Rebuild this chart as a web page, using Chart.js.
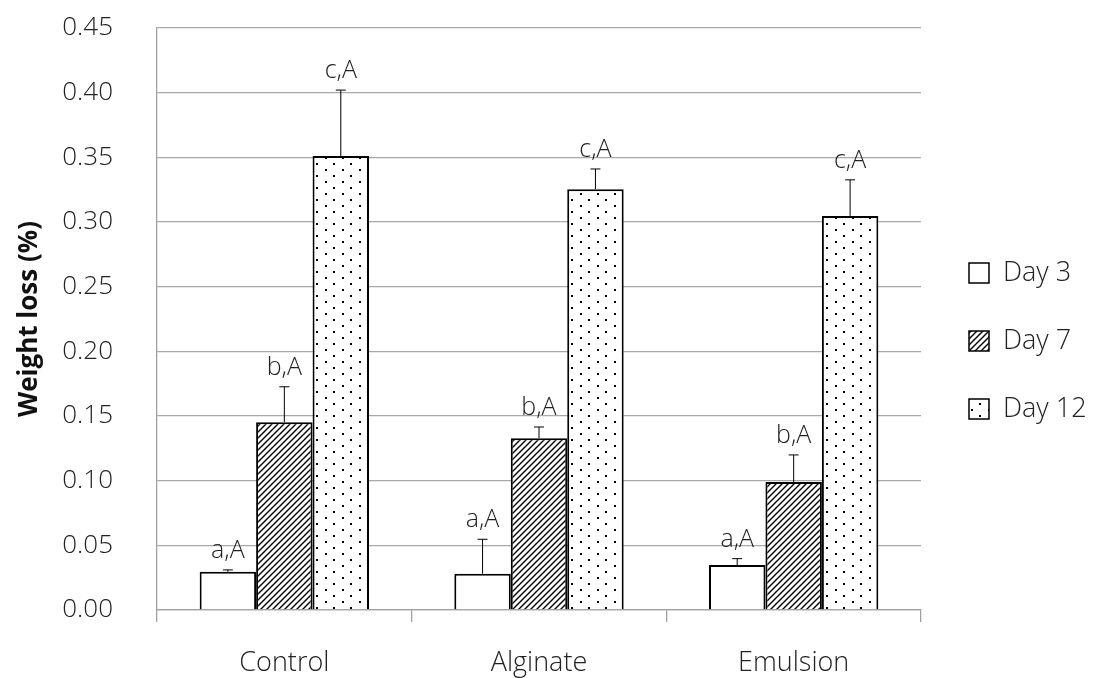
<!DOCTYPE html>
<html>
<head>
<meta charset="utf-8">
<script src="https://cdn.jsdelivr.net/npm/chart.js@4.4.1/dist/chart.umd.min.js"></script>
<style>
    html, body { margin: 0; padding: 0; background: #fff; }
    #wrap { width: 1104px; height: 678px; }
</style>
</head>
<body>
<div id="wrap"><canvas id="myChart" width="1104" height="678"></canvas></div>
<script>
// data
var categories = ['Control', 'Alginate', 'Emulsion'];
var seriesNames = ['Day 3', 'Day 7', 'Day 12'];
var day3 = [0.0295, 0.028, 0.0348];
var day7 = [0.1452, 0.1328, 0.099];
var day12 = [0.351, 0.3254, 0.3047];
var err3 = [0.0015, 0.0267, 0.0049];
var err7 = [0.0274, 0.0087, 0.0209];
var err12 = [0.051, 0.0156, 0.0279];
var letters3 = ['a,A', 'a,A', 'a,A'];
var letters7 = ['b,A', 'b,A', 'b,A'];
var letters12 = ['c,A', 'c,A', 'c,A'];
var yTicks = [0, 0.05, 0.10, 0.15, 0.20, 0.25, 0.30, 0.35, 0.40, 0.45];

document.addEventListener('DOMContentLoaded', function() {
    "use strict";

    var FONT = "'Open Sans', 'Noto Sans', sans-serif";
    var ctx = document.getElementById('myChart').getContext('2d');

    /* fill patterns */
    function hatchPattern() {
        var c = document.createElement('canvas');
        c.width = 6; c.height = 6;
        var g = c.getContext('2d');
        g.fillStyle = '#fff';
        g.fillRect(0, 0, 6, 6);
        g.strokeStyle = '#000';
        g.lineWidth = 1.4;
        g.beginPath();
        g.moveTo(0, 6); g.lineTo(6, 0);
        g.moveTo(-3, 3); g.lineTo(3, -3);
        g.moveTo(3, 9); g.lineTo(9, 3);
        g.stroke();
        return ctx.createPattern(c, 'repeat');
    }
    function dotPattern() {
        var c = document.createElement('canvas');
        c.width = 17; c.height = 12;
        var g = c.getContext('2d');
        g.fillStyle = '#fff';
        g.fillRect(0, 0, 17, 12);
        g.fillStyle = '#000';
        g.fillRect(2, 1, 2, 2);
        g.fillRect(10, 7, 2, 2);
        return ctx.createPattern(c, 'repeat');
    }
    var fills = ['#ffffff', hatchPattern(), dotPattern()];
    var errs = [err3, err7, err12];
    var letters = [letters3, letters7, letters12];

    /* error bars + letters above them */
    var errorBars = {
        id: 'errorBars',
        afterDatasetsDraw: function(chart) {
            var c = chart.ctx;
            var y = chart.scales.y;
            c.save();
            chart.data.datasets.forEach(function(ds, i) {
                var meta = chart.getDatasetMeta(i);
                meta.data.forEach(function(bar, j) {
                    var top = y.getPixelForValue(ds.data[j] + errs[i][j]);
                    c.strokeStyle = '#000';
                    c.lineWidth = 1;
                    c.beginPath();
                    c.moveTo(bar.x, bar.y);
                    c.lineTo(bar.x, top);
                    c.moveTo(bar.x - 5, top);
                    c.lineTo(bar.x + 5, top);
                    c.stroke();
                    c.fillStyle = '#222';
                    c.font = '300 25px ' + FONT;
                    c.textAlign = 'center';
                    c.textBaseline = 'middle';
                    c.fillText(letters[i][j], bar.x, top - 19);
                });
            });
            c.restore();
        }
    };

    /* legend on the right */
    var sideLegend = {
        id: 'sideLegend',
        afterDraw: function(chart) {
            var c = chart.ctx;
            var rows = [273, 341, 409];
            c.save();
            seriesNames.forEach(function(name, i) {
                c.fillStyle = fills[i];
                c.fillRect(969, rows[i] - 10, 20, 20);
                c.strokeStyle = '#000';
                c.lineWidth = 1.5;
                c.strokeRect(969, rows[i] - 10, 20, 20);
                c.fillStyle = '#222';
                c.font = '300 27px ' + FONT;
                c.textAlign = 'left';
                c.textBaseline = 'middle';
                c.fillText(name, 1003, rows[i]);
            });
            c.restore();
        }
    };

    var datasets = [day3, day7, day12].map(function(vals, i) {
        return {
            label: seriesNames[i],
            data: vals,
            backgroundColor: fills[i],
            borderColor: '#000',
            borderWidth: 2,
            categoryPercentage: 0.665,
            barPercentage: 1.0
        };
    });

    new Chart(ctx, {
        type: 'bar',
        data: { labels: categories, datasets: datasets },
        plugins: [errorBars, sideLegend],
        options: {
            responsive: false,
            animation: false,
            layout: { padding: { top: 28, right: 183, left: 0, bottom: 0 } },
            plugins: {
                legend: { display: false },
                tooltip: { enabled: false }
            },
            scales: {
                x: {
                    afterFit: function(scale) { scale.height = 68; },
                    grid: {
                        offset: true,
                        drawOnChartArea: false,
                        color: '#a0a0a0',
                        tickLength: 12,
                        lineWidth: 1.3
                    },
                    border: { color: '#a0a0a0', width: 1.3 },
                    ticks: {
                        color: '#222',
                        padding: 25,
                        font: { family: FONT, size: 27, weight: '300' }
                    }
                },
                y: {
                    min: 0,
                    max: 0.45,
                    afterFit: function(scale) {
                        scale.width = 157;
                        scale.paddingTop = 0;
                        scale.paddingBottom = 0;
                    },
                    afterBuildTicks: function(scale) {
                        scale.ticks = yTicks.map(function(v) { return { value: v }; });
                    },
                    grid: { color: '#a8a8a8', lineWidth: 1.3, drawTicks: false },
                    border: { color: '#a0a0a0', width: 1.3 },
                    title: {
                        display: true,
                        text: 'Weight loss (%)',
                        color: '#111',
                        padding: { top: 14, bottom: 0 },
                        font: { family: FONT, size: 26, weight: 'bold' }
                    },
                    ticks: {
                        color: '#222',
                        padding: 44,
                        font: { family: FONT, size: 26, weight: '300' },
                        callback: function(v) { return Number(v).toFixed(2); }
                    }
                }
            }
        }
    });
});
</script>
</body>
</html>
